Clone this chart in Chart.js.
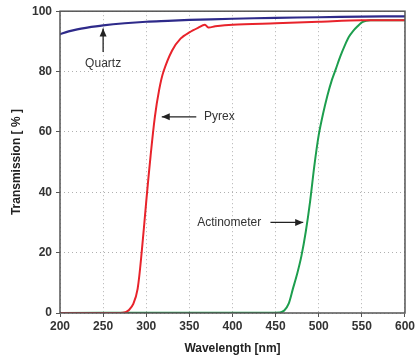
<!DOCTYPE html>
<html>
<head>
<meta charset="utf-8">
<script src="https://cdn.jsdelivr.net/npm/chart.js@4"></script>
<style>
  html, body { margin: 0; padding: 0; background: #fff; }
  #wrap { width: 417px; height: 360px; }
</style>
</head>
<body>
<div id="wrap"><canvas id="chart" width="417" height="360"></canvas></div>
<script>
// wavelengths (nm) and transmission (%)
const quartzX = [200, 210, 220, 230, 250, 275, 300, 325, 350, 400, 450, 500, 550, 600];
const quartzY = [92.4, 93.3, 94.0, 94.5, 95.3, 96.0, 96.5, 96.8, 97.1, 97.5, 97.8, 98.0, 98.2, 98.3];

const pyrexX = [200, 270, 276, 280, 285, 290, 295, 300, 305, 310, 315, 320, 330, 340, 350, 360, 368, 372, 380, 400, 450, 500, 550, 600];
const pyrexY = [0, 0, 0.3, 1, 3, 8, 21, 37, 52, 65, 74, 80, 87, 91, 93, 94.5, 95.5, 94.6, 95, 95.5, 96, 96.5, 97, 97];

const actinoX = [200, 300, 400, 455, 460, 465, 470, 475, 480, 485, 490, 495, 500, 505, 510, 515, 520, 525, 530, 535, 540, 545, 550, 555, 560, 600];
const actinoY = [0, 0.1, 0.1, 0.2, 0.8, 3, 8, 13, 19, 27, 37, 49, 59, 66, 72, 77, 81, 85, 88.5, 91.5, 93.5, 95, 96.3, 96.8, 97, 97];

const xTicks = [200, 250, 300, 350, 400, 450, 500, 550, 600];
const yTicks = [0, 20, 40, 60, 80, 100];

// text labels with arrows: [text, x, y, arrowFromX, arrowFromY, arrowToX, arrowToY, align]
const notes = [
  ["Quartz", 250, 82.5, 250, 86.5, 250, 94.3, "center"],
  ["Pyrex", 367, 65, 358, 65, 318, 65, "left"],
  ["Actinometer", 359, 30, 444, 30, 482, 30, "left"]
];

function pts(xs, ys) {
  return xs.map((x, i) => ({ x: x, y: ys[i] }));
}

const frame = {
  id: "frame",
  afterDraw(chart) {
    const { ctx, chartArea: a } = chart;
    ctx.save();
    ctx.strokeStyle = "#555";
    ctx.lineWidth = 1.5;
    ctx.strokeRect(a.left, a.top, a.right - a.left, a.bottom - a.top);
    ctx.restore();
  }
};

const arrows = {
  id: "arrows",
  afterDatasetsDraw(chart) {
    const { ctx, scales } = chart;
    const sx = scales.x, sy = scales.y;
    ctx.save();
    ctx.font = "12px 'Liberation Sans', Arial, sans-serif";
    ctx.fillStyle = "#333";
    ctx.strokeStyle = "#222";
    ctx.lineWidth = 1.3;
    notes.forEach(n => {
      ctx.textAlign = n[7];
      ctx.textBaseline = "middle";
      ctx.fillText(n[0], sx.getPixelForValue(n[1]), sy.getPixelForValue(n[2]));
      const x1 = sx.getPixelForValue(n[3]), y1 = sy.getPixelForValue(n[4]);
      const x2 = sx.getPixelForValue(n[5]), y2 = sy.getPixelForValue(n[6]);
      ctx.beginPath();
      ctx.moveTo(x1, y1);
      ctx.lineTo(x2, y2);
      ctx.stroke();
      const ang = Math.atan2(y2 - y1, x2 - x1);
      ctx.beginPath();
      ctx.moveTo(x2, y2);
      ctx.lineTo(x2 - 8 * Math.cos(ang) + 3.5 * Math.sin(ang), y2 - 8 * Math.sin(ang) - 3.5 * Math.cos(ang));
      ctx.lineTo(x2 - 8 * Math.cos(ang) - 3.5 * Math.sin(ang), y2 - 8 * Math.sin(ang) + 3.5 * Math.cos(ang));
      ctx.closePath();
      ctx.fillStyle = "#222";
      ctx.fill();
      ctx.fillStyle = "#333";
    });
    ctx.restore();
  }
};

const tickFont = { family: "'Liberation Sans', Arial, sans-serif", size: 12, weight: "bold" };

new Chart(document.getElementById("chart"), {
  type: "line",
  data: {
    datasets: [
      { label: "Quartz", data: pts(quartzX, quartzY), borderColor: "#2e2a8a", borderWidth: 2.2, pointRadius: 0, tension: 0.3 },
      { label: "Pyrex", data: pts(pyrexX, pyrexY), borderColor: "#e8232b", borderWidth: 2, pointRadius: 0, tension: 0.3 },
      { label: "Actinometer", data: pts(actinoX, actinoY), borderColor: "#1d9e4e", borderWidth: 2, pointRadius: 0, tension: 0.3 }
    ]
  },
  options: {
    responsive: false,
    animation: false,
    layout: { padding: { top: 9, right: 10, left: 5, bottom: 0 } },
    plugins: { legend: { display: false }, tooltip: { enabled: false } },
    scales: {
      x: {
        type: "linear",
        min: 200, max: 600,
        afterBuildTicks: ax => { ax.ticks = xTicks.map(v => ({ value: v })); },
        afterFit: ax => { ax.height = 47; },
        grid: { color: "#b0b0b0", tickColor: "#555", tickLength: 4, lineWidth: 1 },
        border: { display: false, dash: [1, 3] },
        ticks: { color: "#333", font: tickFont, padding: 2, maxRotation: 0 },
        title: { display: true, text: "Wavelength [nm]", color: "#222", font: tickFont, padding: { top: 1 } }
      },
      y: {
        min: 0, max: 100,
        afterBuildTicks: ax => { ax.ticks = yTicks.map(v => ({ value: v })); },
        afterFit: ax => { ax.width = 55; },
        grid: { color: "#b0b0b0", tickColor: "#555", tickLength: 4, lineWidth: 1 },
        border: { display: false, dash: [1, 3] },
        ticks: { color: "#333", font: tickFont, padding: 4 },
        title: { display: true, text: "Transmission [ % ]", color: "#222", font: tickFont, padding: { bottom: 2 } }
      }
    }
  },
  plugins: [frame, arrows]
});
</script>
</body>
</html>
